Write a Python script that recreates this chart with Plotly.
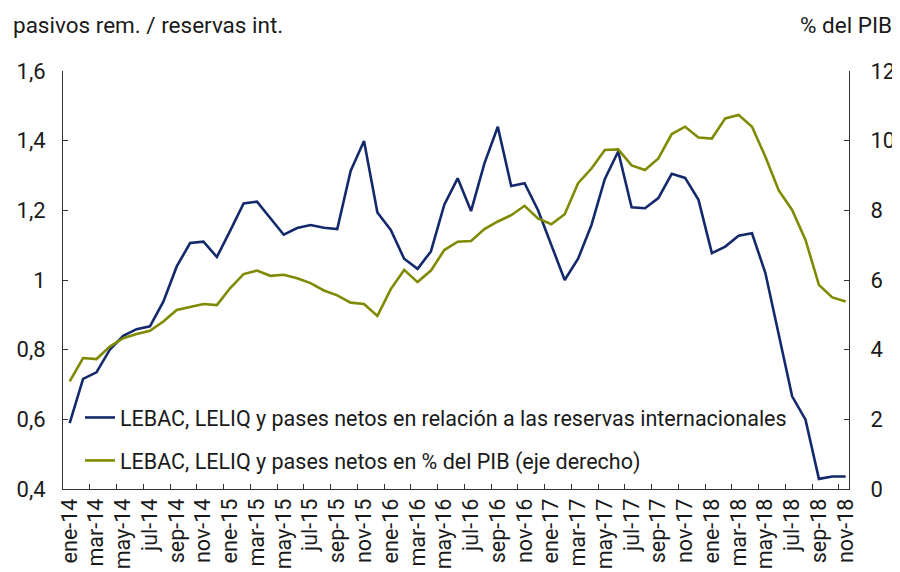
import plotly.graph_objects as go

months = ["ene", "feb", "mar", "abr", "may", "jun", "jul", "ago", "sep", "oct", "nov", "dic"]
categories = [f"{m}-{y}" for y in range(14, 19) for m in months][:59]

ratio_reserves = [
    0.589, 0.716, 0.735, 0.800, 0.840, 0.859, 0.867, 0.938, 1.039, 1.106,
    1.110, 1.066, 1.142, 1.220, 1.225, 1.177, 1.130, 1.149, 1.158, 1.150,
    1.146, 1.313, 1.399, 1.194, 1.144, 1.061, 1.032, 1.082, 1.216, 1.292,
    1.198, 1.335, 1.440, 1.270, 1.278, 1.201, 1.101, 1.000, 1.061, 1.158,
    1.290, 1.369, 1.209, 1.206, 1.235, 1.305, 1.293, 1.230, 1.077, 1.096,
    1.127, 1.134, 1.020, 0.838, 0.666, 0.599, 0.429, 0.436, 0.436,
]
pct_pib = [
    3.09, 3.76, 3.73, 4.09, 4.33, 4.45, 4.54, 4.81, 5.14, 5.22,
    5.31, 5.28, 5.77, 6.17, 6.27, 6.12, 6.15, 6.05, 5.91, 5.70,
    5.56, 5.35, 5.31, 4.97, 5.74, 6.29, 5.94, 6.27, 6.86, 7.10,
    7.12, 7.46, 7.68, 7.86, 8.13, 7.77, 7.60, 7.89, 8.78, 9.20,
    9.73, 9.75, 9.29, 9.16, 9.49, 10.19, 10.40, 10.09, 10.06, 10.64,
    10.74, 10.40, 9.54, 8.57, 8.01, 7.15, 5.86, 5.50, 5.38,
]

left_ticks = [0.4, 0.6, 0.8, 1.0, 1.2, 1.4, 1.6]
left_text = ["0,4", "0,6", "0,8", "1", "1,2", "1,4", "1,6"]
right_ticks = [0, 2, 4, 6, 8, 10, 12]

name_blue = "LEBAC, LELIQ y pases netos en relación a las reservas internacionales"
name_green = "LEBAC, LELIQ y pases netos en % del PIB (eje derecho)"

BLUE = "#14296b"
GREEN = "#7f8a00"
FONT = "Roboto"
TXT = "#1a1a1a"

x_idx = list(range(len(categories)))

# the page body has an 8px margin: the figure is sized/offset to compensate
OFF = 8
W, H = 900 - OFF, 572 - OFF
L, T = 63 - OFF, 71 - OFF
R, B = W - (849 - OFF), H - (489 - OFF)
PW, PH = W - L - R, H - T - B

def px_x(x):  # screen x -> paper x
    return (x - OFF - L) / PW

def px_y(y):  # screen y -> paper y
    return (H - B - (y - OFF)) / PH

fig = go.Figure()
fig.add_trace(go.Scatter(x=x_idx, y=ratio_reserves, mode="lines", name=name_blue,
                         line=dict(color=BLUE, width=2.6), legendgroup="a"))
fig.add_trace(go.Scatter(x=x_idx, y=pct_pib, mode="lines", name=name_green,
                         line=dict(color=GREEN, width=2.6), yaxis="y2", legendgroup="b"))

fig.update_layout(
    width=W, height=H,
    margin=dict(l=L, r=R, t=T, b=B, autoexpand=False),
    paper_bgcolor="white", plot_bgcolor="white",
    font=dict(family=FONT, size=22, color=TXT),
    showlegend=True,
    legend=dict(x=px_x(80), y=px_y(439), xanchor="left", yanchor="middle",
                font=dict(size=21.5, color=TXT), bgcolor="rgba(0,0,0,0)",
                tracegroupgap=12, itemwidth=30),
    xaxis=dict(
        range=[-0.5, 58.25], showgrid=False, zeroline=False, automargin=False,
        showline=True, linecolor="#333", linewidth=1,
        tickmode="array", tickvals=x_idx[::2], ticktext=categories[::2],
        ticks="", tickangle=-90, tickfont=dict(size=21.5),
        minor=dict(tickmode="array", tickvals=[i + 1.5 for i in range(0, 58, 2)],
                   ticks="inside", ticklen=5, tickcolor="#333", showgrid=False),
    ),
    yaxis=dict(
        range=[0.4, 1.6], showgrid=False, zeroline=False, automargin=False,
        showline=True, linecolor="#333", linewidth=1,
        tickmode="array", tickvals=left_ticks, ticktext=left_text,
        ticks="inside", ticklen=5, tickcolor="#333", tickfont=dict(size=22),
        ticklabelstandoff=12,
    ),
    yaxis2=dict(
        range=[0, 12], overlaying="y", side="right", showgrid=False, zeroline=False,
        automargin=False,
        showline=True, linecolor="#333", linewidth=1,
        tickmode="array", tickvals=right_ticks,
        ticks="inside", ticklen=5, tickcolor="#333", tickfont=dict(size=22),
        ticklabelstandoff=16,
    ),
    annotations=[
        dict(text="pasivos rem. / reservas int.", xref="paper", yref="paper",
             x=px_x(11), y=px_y(25), xanchor="left", yanchor="middle",
             showarrow=False, font=dict(size=22.5)),
        dict(text="% del PIB", xref="paper", yref="paper",
             x=px_x(894), y=px_y(25), xanchor="right", yanchor="middle",
             showarrow=False, font=dict(size=22.5)),
    ],
)

fig.write_html("out.html")
